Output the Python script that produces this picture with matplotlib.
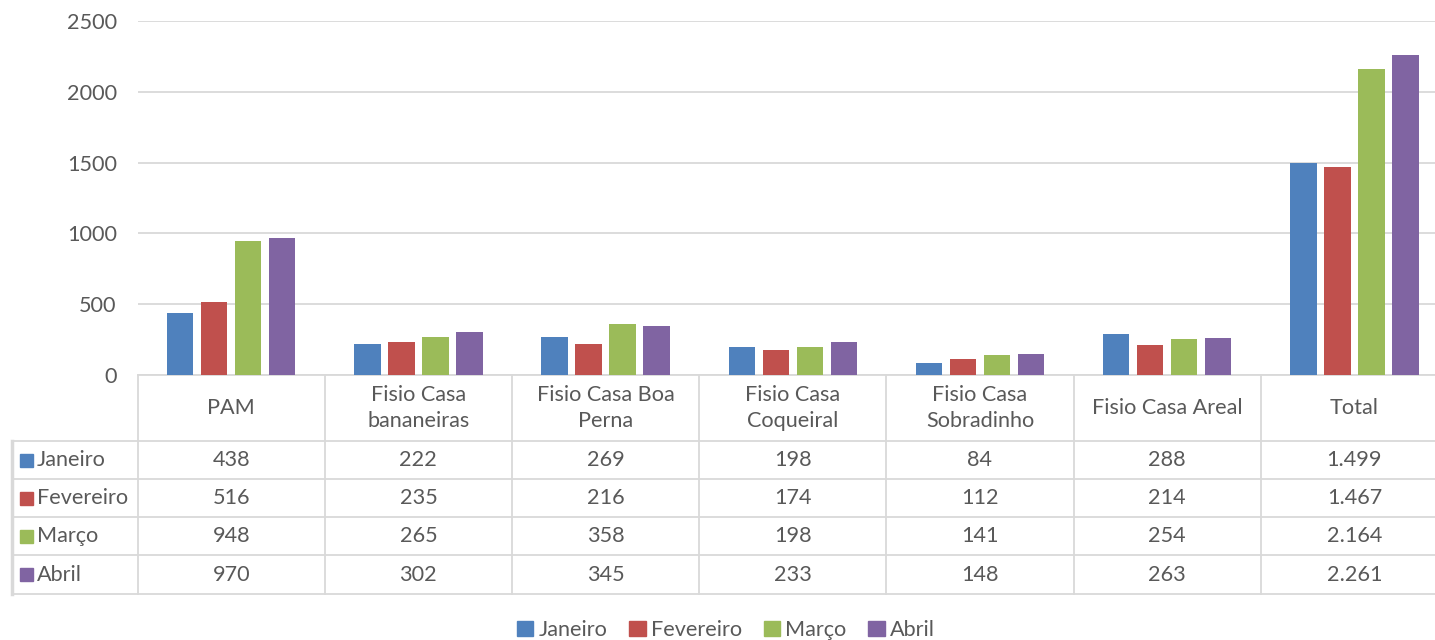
import matplotlib.pyplot as plt
import matplotlib.patches as mpatches

# Dados do gráfico (atendimentos por unidade e mês)
categorias = ['PAM', 'Fisio Casa\nbananeiras', 'Fisio Casa Boa\nPerna', 'Fisio Casa\nCoqueiral',
              'Fisio Casa\nSobradinho', 'Fisio Casa Areal', 'Total']
meses = ['Janeiro', 'Fevereiro', 'Março', 'Abril']
janeiro = [438, 222, 269, 198, 84, 288, 1499]
fevereiro = [516, 235, 216, 174, 112, 214, 1467]
marco = [948, 265, 358, 198, 141, 254, 2164]
abril = [970, 302, 345, 233, 148, 263, 2261]
yticks = [0, 500, 1000, 1500, 2000, 2500]

series = [janeiro, fevereiro, marco, abril]
cores = ['#4F81BD', '#C0504D', '#9BBB59', '#8064A2']
txt = '#595959'
linha = '#D9D9D9'

plt.rcParams['font.family'] = ['Lato', 'DejaVu Sans']
plt.rcParams['font.size'] = 15.6

W, H = 1435, 640
fig = plt.figure(figsize=(W / 100, H / 100), dpi=100)

# area das barras (pixels -> fração da figura); passa um pouco da borda direita
x0, x1 = 137.6, 1448
y_top, y_zero = 21, 375
ax = fig.add_axes([x0 / W, 1 - y_zero / H, (x1 - x0) / W, (y_zero - y_top) / H])

n = len(categorias)
larg = 0.142
passo = 0.1816
for i, (vals, cor, mes) in enumerate(zip(series, cores, meses)):
    pos = [c + 0.5 + (i - 1.5) * passo for c in range(n)]
    ax.bar(pos, vals, width=larg, color=cor, label=mes, zorder=3)

ax.set_xlim(0, n)
ax.set_ylim(0, 2500)
ax.set_yticks(yticks)
ax.set_yticklabels([str(v) for v in yticks], color=txt)
ax.tick_params(axis='y', length=0, pad=15)
ax.tick_params(axis='x', length=0, labelbottom=False)
ax.grid(axis='y', color=linha, linewidth=1.3, zorder=0)
for s in ['top', 'right', 'left']:
    ax.spines[s].set_visible(False)
ax.spines['bottom'].set_color(linha)
ax.spines['bottom'].set_linewidth(1.3)

# tabela de dados abaixo do gráfico
colw = (x1 - x0) / n
tx0 = 12
tab = fig.add_axes([tx0 / W, 1 - 594 / H, (x1 - tx0) / W, (594 - y_zero) / H])
tab.set_xlim(-(x0 - tx0) / colw, n)
tab.set_ylim(594, y_zero)
tab.axis('off')

linhas_y = [441, 479, 517, 555, 594]
for c in range(n + 1):
    tab.plot([c, c], [y_zero, 594], color=linha, lw=1.3, clip_on=False)
tab.plot([-(x0 - tx0) / colw] * 2, [441, 594], color=linha, lw=2.5, clip_on=False)
for yy in linhas_y:
    tab.plot([-(x0 - tx0) / colw, n], [yy, yy], color=linha, lw=1.3, clip_on=False)

for c, nome in enumerate(categorias):
    tab.text(c + 0.5, (y_zero + 441) / 2, nome, ha='center', va='center',
             color=txt, linespacing=1.4)

for r, (vals, cor, mes) in enumerate(zip(series, cores, meses)):
    yc = (linhas_y[r] + linhas_y[r + 1]) / 2
    for c, v in enumerate(vals):
        tab.text(c + 0.5, yc, f'{v:,}'.replace(',', '.'), ha='center', va='center', color=txt)
    kx = -(x0 - 20) / colw
    tab.add_patch(mpatches.Rectangle((kx, yc - 6.5), 13 / colw, 13, color=cor))
    tab.text(-(x0 - 37) / colw, yc, mes, ha='left', va='center', color=txt)

# legenda inferior
handles = [mpatches.Patch(color=c, label=m) for c, m in zip(cores, meses)]
fig.legend(handles=handles, loc='center', bbox_to_anchor=(726 / W, 1 - 630 / H), ncol=4,
           frameon=False, handlelength=0.75, handleheight=0.75, handletextpad=0.25,
           columnspacing=1.0, labelcolor=txt, borderpad=0)

fig.savefig('out.png', dpi=100)
